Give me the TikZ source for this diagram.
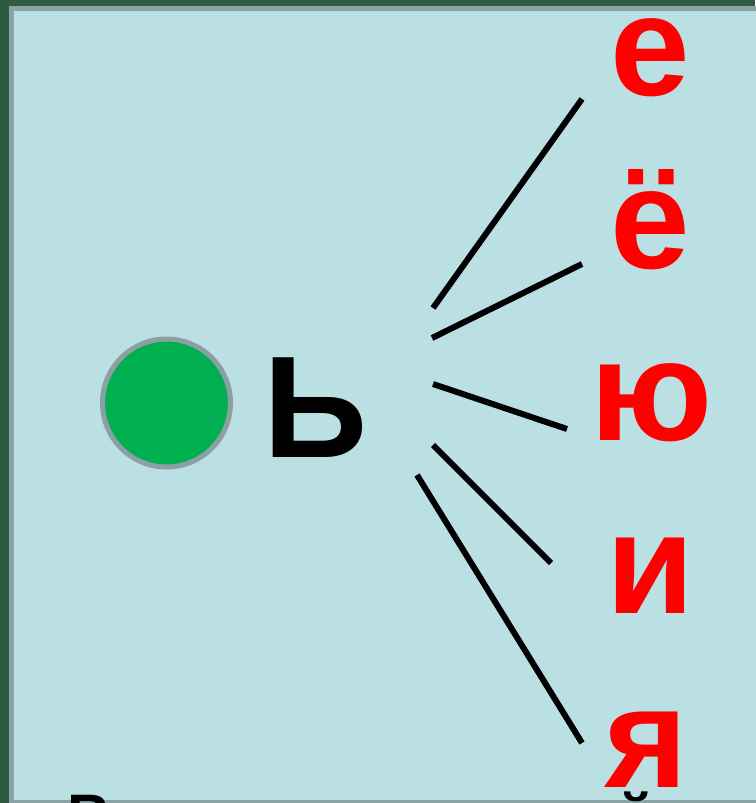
\documentclass[tikz,border=0pt]{standalone}
\usepackage{fontspec}
\setmainfont{Liberation Sans}
\definecolor{bgdark}{HTML}{2F5A42}
\definecolor{panel}{HTML}{BAE0E3}
\definecolor{panelrim}{HTML}{8AA3A6}
\definecolor{dotgreen}{HTML}{00B050}
\definecolor{dotrim}{HTML}{8C9FA3}
\definecolor{vred}{HTML}{FF0000}
\tikzset{
  vowel/.style={inner sep=0pt, anchor=base, text=vred, font=\fontsize{143}{143}\selectfont\bfseries},
  sign/.style={inner sep=0pt, anchor=base, text=black, font=\fontsize{145}{145}\selectfont\bfseries},
  tail/.style={inner sep=0pt, anchor=base, text=black, font=\fontsize{60}{60}\selectfont\bfseries},
  ray/.style={draw=black, line width=6pt},
}
\begin{document}
\begin{tikzpicture}[x=1pt,y=-1pt]
\useasboundingbox (0,0) rectangle (755,803);
\fill[bgdark] (0,0) rectangle (755,803);
\draw[fill=panel, draw=panelrim, line width=5pt] (11.5,8.5) rectangle (790,802.5);
\node[circle, fill=dotgreen, draw=dotrim, line width=5pt, minimum size=128pt, inner sep=0pt] (dot) at (166.5,403) {};
\node[sign] (soft) at (316,457) {Ь};
\node[vowel] (ve) at (650,95) {е};
\node[vowel] (vyo) at (650,268) {ё};
\node[vowel] (vyu) at (652,440) {ю};
\node[vowel] (vi) at (650,613) {и};
\node[vowel] (vya) at (646,787) {я};
\node[tail] (tb) at (89,836) {В};
\node[tail] (ti) at (636,836) {й};
\coordinate (s1) at (433,308); \coordinate (e1) at (582,99);
\coordinate (s2) at (432,338); \coordinate (e2) at (582,264);
\coordinate (s3) at (433,384); \coordinate (e3) at (567,429);
\coordinate (s4) at (433,445); \coordinate (e4) at (551,563);
\coordinate (s5) at (417,475); \coordinate (e5) at (582,743);
\draw[ray] (s1) -- (e1);
\draw[ray] (s2) -- (e2);
\draw[ray] (s3) -- (e3);
\draw[ray] (s4) -- (e4);
\draw[ray] (s5) -- (e5);
\end{tikzpicture}
\end{document}
